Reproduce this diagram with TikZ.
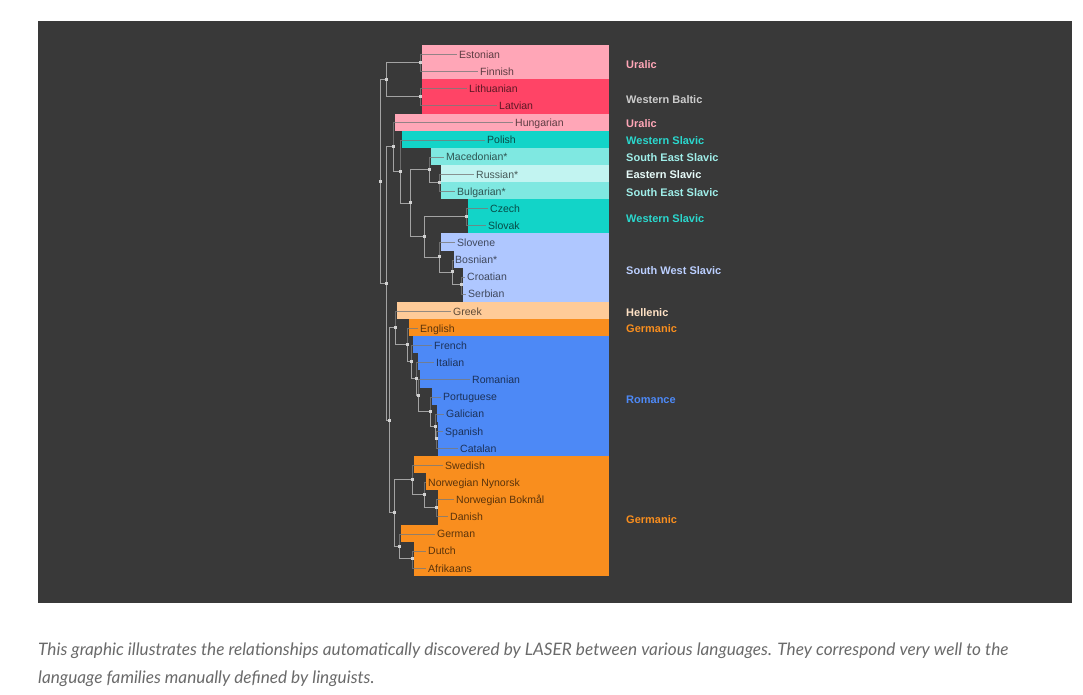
\documentclass[tikz,border=0pt]{standalone}
\usepackage{fontspec}
\setmainfont{Liberation Sans}
\newfontfamily\capfont{Lato}
\usepackage{tikz}

\definecolor{panel}{HTML}{393939}
\definecolor{uralic}{HTML}{FFA6B7}
\definecolor{baltic}{HTML}{FF4466}
\definecolor{wslavic}{HTML}{12D4C8}
\definecolor{seslavic}{HTML}{7FE8E1}
\definecolor{eslavic}{HTML}{C2F4F1}
\definecolor{swslavic}{HTML}{AFC7FF}
\definecolor{hellenic}{HTML}{FFCB98}
\definecolor{germanic}{HTML}{F98E1E}
\definecolor{romance}{HTML}{4D89F6}
\definecolor{branchgray}{HTML}{A3A3A3}
\definecolor{dotgray}{HTML}{D2D2D2}
\definecolor{captext}{HTML}{6A6A6A}

\begin{document}
\begin{tikzpicture}[x=1pt,y=-1pt,
  leaf/.style={anchor=west,inner sep=2pt,text height=7.6pt,text depth=0pt,
    font=\fontsize{10.5}{12}\selectfont,text=black,text opacity=0.64},
  fam/.style={anchor=west,inner sep=0pt,text height=7.9pt,text depth=0pt,
    font=\fontsize{11}{13}\selectfont\bfseries},
  branch/.style={draw=branchgray,line width=0.8pt},
  leafedge/.style={draw=black!52,line width=0.8pt,opacity=0.8}]
\useasboundingbox (0,0) rectangle (1083,694);
\fill[white] (0,0) rectangle (1083,694);
\fill[panel] (38,21) rectangle (1072,603);

\foreach \n/\i/\bx/\tx/\c/\t in {
  est/0/422/459/uralic/Estonian, fin/1/422/480/uralic/Finnish,
  lit/2/422/469/baltic/Lithuanian, lat/3/422/499/baltic/Latvian,
  hun/4/395/515/uralic/Hungarian, pol/5/402/487/wslavic/Polish,
  mac/6/431/446/seslavic/Macedonian*, rus/7/441/476/eslavic/Russian*,
  bul/8/441/457/seslavic/Bulgarian*, cze/9/468/490/wslavic/Czech,
  slk/10/468/488/wslavic/Slovak, slv/11/441/457/swslavic/Slovene,
  bos/12/454/455/swslavic/Bosnian*, cro/13/463/467/swslavic/Croatian,
  ser/14/463/468/swslavic/Serbian, gre/15/397/453/hellenic/Greek,
  eng/16/409/420/germanic/English, fre/17/413/434/romance/French,
  ita/18/418/436/romance/Italian, rom/19/420/472/romance/Romanian,
  por/20/432/443/romance/Portuguese, gal/21/436.5/446/romance/Galician,
  spa/22/438/445/romance/Spanish, cat/23/438/460/romance/Catalan,
  swe/24/414/445/germanic/Swedish, nyn/25/426/428/germanic/Norwegian Nynorsk,
  bok/26/438/456/germanic/Norwegian Bokmål, dan/27/438/450/germanic/Danish,
  ger/28/401/437/germanic/German, dut/29/414/428/germanic/Dutch,
  afr/30/414/428/germanic/Afrikaans}
{
  \fill[\c] (\bx,{45+17.13*\i}) rectangle (609,{45+17.13*(\i+1)});
  \node[leaf] (\n) at (\tx-2,{45.8+17.13*(\i+0.5)}) {\t};
}

\coordinate (estfin) at (420,62.14);
\coordinate (litlat) at (420,96.39);
\coordinate (ubalt) at (386,79.26);
\coordinate (rusbul) at (439.5,182.03);
\coordinate (mrb) at (429.5,169.19);
\coordinate (cz) at (466.5,216.29);
\coordinate (crs) at (461.5,284.80);
\coordinate (bcs) at (452.5,271.96);
\coordinate (sws) at (439.5,256.97);
\coordinate (wsw) at (424,236.63);
\coordinate (eslav) at (410.5,202.91);
\coordinate (slav) at (400.5,171.06);
\coordinate (hslav) at (393.5,146.57);
\coordinate (spcat) at (436.5,438.97);
\coordinate (gsc) at (435,426.12);
\coordinate (iber) at (430.5,411.13);
\coordinate (rib) at (418.5,395.07);
\coordinate (irib) at (416.5,378.48);
\coordinate (roman) at (411.5,361.62);
\coordinate (engrom) at (407.5,344.63);
\coordinate (grk) at (395.5,327.57);
\coordinate (bokdan) at (436.5,507.48);
\coordinate (nordan) at (424.5,494.63);
\coordinate (nord) at (412.5,479.65);
\coordinate (dutafr) at (412.5,558.87);
\coordinate (west) at (399.5,546.02);
\coordinate (germ) at (394.5,512.84);
\coordinate (lower) at (389.5,420.2);
\coordinate (rest) at (386,283.39);
\coordinate (root) at (380.5,181.3);

\foreach \a/\b in {root/ubalt, root/rest, ubalt/estfin, ubalt/litlat,
  rest/hslav, rest/lower, hslav/slav, slav/eslav, eslav/mrb, eslav/wsw,
  mrb/rusbul, wsw/cz, wsw/sws, sws/bcs, bcs/crs,
  lower/grk, lower/germ, grk/engrom, engrom/roman, roman/irib, irib/rib,
  rib/iber, iber/gsc, gsc/spcat, germ/nord, germ/west, nord/nordan,
  nordan/bokdan, west/dutafr}
  \draw[branch] (\a) |- (\b);

\foreach \a/\b in {estfin/est, estfin/fin, litlat/lit, litlat/lat,
  hslav/hun, slav/pol, mrb/mac, rusbul/rus, rusbul/bul, cz/cze, cz/slk,
  sws/slv, bcs/bos, crs/cro, crs/ser, grk/gre, engrom/eng, roman/fre,
  irib/ita, rib/rom, iber/por, gsc/gal, spcat/spa, spcat/cat,
  nord/swe, nordan/nyn, bokdan/bok, bokdan/dan, west/ger,
  dutafr/dut, dutafr/afr}
  \draw[leafedge] (\a) |- (\b);

\foreach \p in {root,ubalt,estfin,litlat,rest,hslav,slav,eslav,mrb,rusbul,
  wsw,cz,sws,bcs,crs,lower,grk,engrom,roman,irib,rib,iber,gsc,spcat,
  germ,nord,nordan,bokdan,west,dutafr}
  \fill[dotgray] (\p) ++(-1.5,-1.5) rectangle ++(3,3);

\node[fam,text=uralic] (uralic1) at (626,64.5) {Uralic};
\node[fam,text=black!20] (wbaltic) at (626,99.5) {Western Baltic};
\node[fam,text=uralic] (uralic2) at (626,124) {Uralic};
\node[fam,text=wslavic!90!white] (wslavic1) at (626,141) {Western Slavic};
\node[fam,text=seslavic!75!white] (seslavic1) at (626,158) {South East Slavic};
\node[fam,text=eslavic!40!white] (eslavic1) at (626,175) {Eastern Slavic};
\node[fam,text=seslavic!75!white] (seslavic2) at (626,192.5) {South East Slavic};
\node[fam,text=wslavic!90!white] (wslavic2) at (626,219) {Western Slavic};
\node[fam,text=swslavic!85!white] (swslavic1) at (626,270.5) {South West Slavic};
\node[fam,text=hellenic!55!white] (hellenic1) at (626,312.5) {Hellenic};
\node[fam,text=germanic] (germanic1) at (626,329) {Germanic};
\node[fam,text=romance] (romance1) at (626,399.5) {Romance};
\node[fam,text=germanic] (germanic2) at (626,519.5) {Germanic};

\node[anchor=north west,inner sep=0pt,align=left,text=captext,
  font=\capfont\itshape\fontsize{17.2}{27.5}\selectfont] (caption) at (38,643)
  {This graphic illustrates the relationships automatically discovered by LASER between various languages. They correspond very well to the\\
   language families manually defined by linguists.};
\end{tikzpicture}
\end{document}
